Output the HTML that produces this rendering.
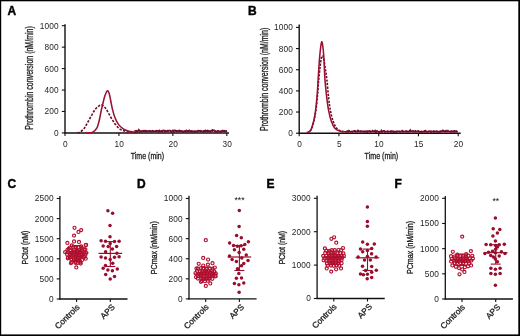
<!DOCTYPE html>
<html><head><meta charset="utf-8"><style>html,body{margin:0;padding:0;background:#fff;width:520px;height:336px;overflow:hidden}svg{display:block;will-change:transform}</style></head>
<body>
<svg width="520" height="336" viewBox="0 0 520 336" font-family='"Liberation Sans", sans-serif'>
<rect x="0" y="0" width="520" height="336" fill="#000"/>
<rect x="1.2" y="1.3" width="517.1" height="333.1" fill="#fff"/>
<text x="7.50" y="14.60" font-size="12" font-weight="bold" fill="#000" stroke="#000" stroke-width="0.4">A</text>
<text x="248.10" y="14.60" font-size="12" font-weight="bold" fill="#000" stroke="#000" stroke-width="0.4">B</text>
<text x="7.50" y="187.70" font-size="12" font-weight="bold" fill="#000" stroke="#000" stroke-width="0.4">C</text>
<text x="137.00" y="187.70" font-size="12" font-weight="bold" fill="#000" stroke="#000" stroke-width="0.4">D</text>
<text x="266.60" y="187.70" font-size="12" font-weight="bold" fill="#000" stroke="#000" stroke-width="0.4">E</text>
<text x="394.50" y="187.70" font-size="12" font-weight="bold" fill="#000" stroke="#000" stroke-width="0.4">F</text>
<line x1="65.0" y1="24.3" x2="65.0" y2="133.5" stroke="#111" stroke-width="1.4"/>
<line x1="61.8" y1="132.90" x2="65.0" y2="132.90" stroke="#111" stroke-width="1.1"/>
<text x="58.80" y="135.89" font-size="8.3" text-anchor="end" font-weight="normal" fill="#1e1e1e" letter-spacing="0.15">0</text>
<line x1="61.8" y1="111.46" x2="65.0" y2="111.46" stroke="#111" stroke-width="1.1"/>
<text x="58.80" y="114.45" font-size="8.3" text-anchor="end" font-weight="normal" fill="#1e1e1e" letter-spacing="0.15">200</text>
<line x1="61.8" y1="90.02" x2="65.0" y2="90.02" stroke="#111" stroke-width="1.1"/>
<text x="58.80" y="93.01" font-size="8.3" text-anchor="end" font-weight="normal" fill="#1e1e1e" letter-spacing="0.15">400</text>
<line x1="61.8" y1="68.58" x2="65.0" y2="68.58" stroke="#111" stroke-width="1.1"/>
<text x="58.80" y="71.57" font-size="8.3" text-anchor="end" font-weight="normal" fill="#1e1e1e" letter-spacing="0.15">600</text>
<line x1="61.8" y1="47.14" x2="65.0" y2="47.14" stroke="#111" stroke-width="1.1"/>
<text x="58.80" y="50.13" font-size="8.3" text-anchor="end" font-weight="normal" fill="#1e1e1e" letter-spacing="0.15">800</text>
<line x1="61.8" y1="25.70" x2="65.0" y2="25.70" stroke="#111" stroke-width="1.1"/>
<text x="58.80" y="28.69" font-size="8.3" text-anchor="end" font-weight="normal" fill="#1e1e1e" letter-spacing="0.15">1000</text>
<line x1="64.4" y1="132.9" x2="229" y2="132.9" stroke="#111" stroke-width="1.5"/>
<line x1="65.00" y1="132.9" x2="65.00" y2="135.9" stroke="#111" stroke-width="1.1"/>
<text x="65.40" y="147.10" font-size="8.3" text-anchor="middle" font-weight="normal" fill="#1e1e1e" letter-spacing="0.15">0</text>
<line x1="118.93" y1="132.9" x2="118.93" y2="135.9" stroke="#111" stroke-width="1.1"/>
<text x="119.33" y="147.10" font-size="8.3" text-anchor="middle" font-weight="normal" fill="#1e1e1e" letter-spacing="0.15">10</text>
<line x1="172.87" y1="132.9" x2="172.87" y2="135.9" stroke="#111" stroke-width="1.1"/>
<text x="173.27" y="147.10" font-size="8.3" text-anchor="middle" font-weight="normal" fill="#1e1e1e" letter-spacing="0.15">20</text>
<line x1="226.80" y1="132.9" x2="226.80" y2="135.9" stroke="#111" stroke-width="1.1"/>
<text x="227.20" y="147.10" font-size="8.3" text-anchor="middle" font-weight="normal" fill="#1e1e1e" letter-spacing="0.15">30</text>
<text transform="translate(33.20,78.00) rotate(-90)" x="0" y="0" font-size="10" text-anchor="middle" textLength="103.5" lengthAdjust="spacingAndGlyphs" fill="#1e1e1e" stroke="#1e1e1e" stroke-width="0.32">Prothrombin conversion (nM/min)</text>
<text x="147.40" y="159.00" font-size="9.3" text-anchor="middle" textLength="33.2" lengthAdjust="spacingAndGlyphs" fill="#1e1e1e" stroke="#1e1e1e" stroke-width="0.32">Time (min)</text>
<path d="M77.50,132.60 C77.88,132.55 78.67,133.03 79.80,132.30 C80.93,131.57 82.95,129.92 84.30,128.20 C85.65,126.48 86.72,124.08 87.90,122.00 C89.08,119.92 90.22,117.78 91.40,115.70 C92.58,113.62 93.80,111.08 95.00,109.50 C96.20,107.92 97.47,106.95 98.60,106.20 C99.73,105.45 100.62,104.63 101.80,105.00 C102.98,105.37 104.60,107.07 105.70,108.40 C106.80,109.73 107.35,111.18 108.40,113.00 C109.45,114.82 110.82,117.37 112.00,119.30 C113.18,121.23 114.17,122.97 115.50,124.60 C116.83,126.23 118.35,127.97 120.00,129.10 C121.65,130.23 123.62,130.88 125.40,131.40 C127.18,131.92 128.93,132.03 130.70,132.20 C132.47,132.37 135.12,132.37 136.00,132.40" fill="none" stroke="#6e0a26" stroke-width="1.6" stroke-dasharray="2.4,1.4"/>
<path d="M86.00,132.60 C87.05,132.57 90.50,133.13 92.30,132.40 C94.10,131.67 95.60,130.38 96.80,128.20 C98.00,126.02 98.76,122.27 99.50,119.30 C100.24,116.33 100.67,113.08 101.25,110.40 C101.83,107.72 102.41,105.58 103.00,103.20 C103.59,100.82 104.08,98.15 104.80,96.10 C105.52,94.05 106.57,91.35 107.30,90.90 C108.03,90.45 108.63,91.80 109.20,93.40 C109.77,95.00 110.18,97.97 110.70,100.50 C111.22,103.03 111.60,105.77 112.30,108.60 C113.00,111.43 113.85,114.83 114.90,117.50 C115.95,120.17 117.15,122.67 118.60,124.60 C120.05,126.53 121.88,127.98 123.60,129.10 C125.32,130.22 127.12,130.80 128.90,131.30 C130.68,131.80 133.40,131.97 134.30,132.10" fill="none" stroke="#9a0f32" stroke-width="1.55"/>
<polyline points="134.30,131.55 135.20,130.91 136.10,130.62 137.00,131.46 137.90,131.42 138.80,129.80 139.70,130.82 140.60,131.48 141.50,131.15 142.40,131.11 143.30,130.75 144.20,131.24 145.10,130.52 146.00,131.39 146.90,130.97 147.80,131.00 148.70,131.41 149.60,131.03 150.50,131.36 151.40,131.43 152.30,130.89 153.20,131.30 154.10,131.21 155.00,131.26 155.90,130.91 156.80,131.13 157.70,130.78 158.60,131.55 159.50,130.44 160.40,131.34 161.30,131.35 162.20,130.59 163.10,130.61 164.00,130.38 164.90,131.33 165.80,131.43 166.70,131.48 167.60,130.76 168.50,131.05 169.40,130.61 170.30,130.53 171.20,131.40 172.10,130.97 173.00,130.32 173.90,131.06 174.80,130.32 175.70,130.95 176.60,131.44 177.50,130.89 178.40,131.32 179.30,130.80 180.20,131.23 181.10,130.94 182.00,131.09 182.90,131.50 183.80,131.55 184.70,130.88 185.60,131.32 186.50,131.08 187.40,130.85 188.30,130.97 189.20,130.34 190.10,131.20 191.00,131.33 191.90,131.10 192.80,131.06 193.70,131.58 194.60,131.47 195.50,131.46 196.40,131.24 197.30,131.37 198.20,130.74 199.10,131.08 200.00,130.70 200.90,131.36 201.80,131.16 202.70,131.23 203.60,131.48 204.50,131.24 205.40,130.67 206.30,131.42 207.20,130.62 208.10,131.44 209.00,131.36 209.90,131.53 210.80,131.10 211.70,130.56 212.60,129.99 213.50,130.42 214.40,130.49 215.30,131.25 216.20,131.43 217.10,131.25 218.00,131.03 218.90,131.57 219.80,131.40 220.70,131.54 221.60,131.44 222.50,130.56 223.40,131.06 224.30,130.69 225.20,131.52 226.10,131.25 226.50,131.60" fill="none" stroke="#7c0d2e" stroke-width="1.7"/>
<polyline points="136.00,131.78 136.90,131.54 137.80,131.29 138.70,131.57 139.60,131.76 140.50,131.41 141.40,131.68 142.30,131.57 143.20,131.33 144.10,130.92 145.00,131.52 145.90,131.08 146.80,131.63 147.70,131.64 148.60,131.46 149.50,130.85 150.40,131.34 151.30,131.28 152.20,130.78 153.10,131.30 154.00,131.16 154.90,131.42 155.80,131.41 156.70,130.85 157.60,131.67 158.50,131.13 159.40,131.44 160.30,131.79 161.20,131.50 162.10,131.47 163.00,131.50 163.90,131.10 164.80,131.68 165.70,130.87 166.60,131.63 167.50,130.80 168.40,130.71 169.30,130.97 170.20,131.35 171.10,131.75 172.00,130.69 172.90,131.10 173.80,131.70 174.70,131.45 175.60,130.77 176.50,130.80 177.40,131.33 178.30,130.96 179.20,130.52 180.10,130.91 181.00,131.63 181.90,131.73 182.80,131.71 183.70,131.67 184.60,131.52 185.50,131.80 186.40,130.43 187.30,130.92 188.20,131.67 189.10,131.72 190.00,131.00 190.90,130.88 191.80,131.78 192.70,131.42 193.60,131.69 194.50,131.66 195.40,131.24 196.30,131.77 197.20,131.57 198.10,130.71 199.00,130.97 199.90,130.96 200.80,131.26 201.70,130.98 202.60,131.01 203.50,131.66 204.40,129.61 205.30,131.16 206.20,131.72 207.10,131.66 208.00,130.83 208.90,131.64 209.80,130.97 210.70,131.42 211.60,129.68 212.50,130.96 213.40,131.57 214.30,130.70 215.20,131.55 216.10,131.02 217.00,131.71 217.90,131.15 218.80,131.27 219.70,131.44 220.60,131.46 221.50,131.40 222.40,130.75 223.30,131.19 224.20,131.09 225.10,131.14 226.00,130.26 226.50,131.80" fill="none" stroke="#6e0a26" stroke-width="1.8" stroke-dasharray="2.2,1.2"/>
<line x1="299.2" y1="24.5" x2="299.2" y2="133.79999999999998" stroke="#111" stroke-width="1.4"/>
<line x1="296.0" y1="133.20" x2="299.2" y2="133.20" stroke="#111" stroke-width="1.1"/>
<text x="293.00" y="136.19" font-size="8.3" text-anchor="end" font-weight="normal" fill="#1e1e1e" letter-spacing="0.15">0</text>
<line x1="296.0" y1="112.04" x2="299.2" y2="112.04" stroke="#111" stroke-width="1.1"/>
<text x="293.00" y="115.03" font-size="8.3" text-anchor="end" font-weight="normal" fill="#1e1e1e" letter-spacing="0.15">200</text>
<line x1="296.0" y1="90.88" x2="299.2" y2="90.88" stroke="#111" stroke-width="1.1"/>
<text x="293.00" y="93.87" font-size="8.3" text-anchor="end" font-weight="normal" fill="#1e1e1e" letter-spacing="0.15">400</text>
<line x1="296.0" y1="69.72" x2="299.2" y2="69.72" stroke="#111" stroke-width="1.1"/>
<text x="293.00" y="72.71" font-size="8.3" text-anchor="end" font-weight="normal" fill="#1e1e1e" letter-spacing="0.15">600</text>
<line x1="296.0" y1="48.56" x2="299.2" y2="48.56" stroke="#111" stroke-width="1.1"/>
<text x="293.00" y="51.55" font-size="8.3" text-anchor="end" font-weight="normal" fill="#1e1e1e" letter-spacing="0.15">800</text>
<line x1="296.0" y1="27.40" x2="299.2" y2="27.40" stroke="#111" stroke-width="1.1"/>
<text x="293.00" y="30.39" font-size="8.3" text-anchor="end" font-weight="normal" fill="#1e1e1e" letter-spacing="0.15">1000</text>
<line x1="298.59999999999997" y1="133.2" x2="460.7" y2="133.2" stroke="#111" stroke-width="1.5"/>
<line x1="299.20" y1="133.2" x2="299.20" y2="136.2" stroke="#111" stroke-width="1.1"/>
<text x="299.60" y="147.10" font-size="8.3" text-anchor="middle" font-weight="normal" fill="#1e1e1e" letter-spacing="0.15">0</text>
<line x1="338.95" y1="133.2" x2="338.95" y2="136.2" stroke="#111" stroke-width="1.1"/>
<text x="339.35" y="147.10" font-size="8.3" text-anchor="middle" font-weight="normal" fill="#1e1e1e" letter-spacing="0.15">5</text>
<line x1="378.70" y1="133.2" x2="378.70" y2="136.2" stroke="#111" stroke-width="1.1"/>
<text x="379.10" y="147.10" font-size="8.3" text-anchor="middle" font-weight="normal" fill="#1e1e1e" letter-spacing="0.15">10</text>
<line x1="418.45" y1="133.2" x2="418.45" y2="136.2" stroke="#111" stroke-width="1.1"/>
<text x="418.85" y="147.10" font-size="8.3" text-anchor="middle" font-weight="normal" fill="#1e1e1e" letter-spacing="0.15">15</text>
<line x1="458.20" y1="133.2" x2="458.20" y2="136.2" stroke="#111" stroke-width="1.1"/>
<text x="458.60" y="147.10" font-size="8.3" text-anchor="middle" font-weight="normal" fill="#1e1e1e" letter-spacing="0.15">20</text>
<text transform="translate(267.80,79.35) rotate(-90)" x="0" y="0" font-size="10" text-anchor="middle" textLength="103.2" lengthAdjust="spacingAndGlyphs" fill="#1e1e1e" stroke="#1e1e1e" stroke-width="0.32">Prothrombin conversion (nM/min)</text>
<text x="381.40" y="159.00" font-size="9.3" text-anchor="middle" textLength="33.6" lengthAdjust="spacingAndGlyphs" fill="#1e1e1e" stroke="#1e1e1e" stroke-width="0.32">Time (min)</text>
<path d="M307.00,132.60 C307.33,132.53 308.27,132.78 309.00,132.20 C309.73,131.62 310.58,130.97 311.40,129.10 C312.22,127.23 313.15,124.12 313.90,121.00 C314.65,117.88 315.28,114.85 315.90,110.40 C316.52,105.95 317.13,99.37 317.60,94.30 C318.07,89.23 318.27,84.72 318.70,80.00 C319.13,75.28 319.75,69.67 320.20,66.00 C320.65,62.33 321.03,59.70 321.40,58.00 C321.77,56.30 322.03,55.80 322.40,55.80 C322.77,55.80 323.13,55.97 323.60,58.00 C324.07,60.03 324.65,64.33 325.20,68.00 C325.75,71.67 326.33,75.02 326.90,80.00 C327.47,84.98 328.02,92.83 328.60,97.90 C329.18,102.97 329.67,106.55 330.40,110.40 C331.13,114.25 331.97,118.03 333.00,121.00 C334.03,123.97 335.10,126.48 336.60,128.20 C338.10,129.92 340.10,130.67 342.00,131.30 C343.90,131.93 347.00,131.88 348.00,132.00" fill="none" stroke="#6e0a26" stroke-width="1.6" stroke-dasharray="2.2,1.3"/>
<path d="M306.50,132.60 C306.85,132.53 307.82,132.78 308.60,132.20 C309.38,131.62 310.35,130.97 311.20,129.10 C312.05,127.23 312.97,124.12 313.70,121.00 C314.43,117.88 315.02,114.85 315.60,110.40 C316.18,105.95 316.78,99.37 317.20,94.30 C317.62,89.23 317.73,85.72 318.10,80.00 C318.47,74.28 318.97,65.50 319.40,60.00 C319.83,54.50 320.32,50.05 320.70,47.00 C321.08,43.95 321.35,41.87 321.70,41.70 C322.05,41.53 322.43,43.28 322.80,46.00 C323.17,48.72 323.53,52.33 323.90,58.00 C324.27,63.67 324.52,73.35 325.00,80.00 C325.48,86.65 326.20,92.83 326.80,97.90 C327.40,102.97 327.86,106.55 328.60,110.40 C329.34,114.25 330.22,118.03 331.25,121.00 C332.28,123.97 333.31,126.50 334.80,128.20 C336.29,129.90 338.27,130.58 340.20,131.20 C342.13,131.82 345.37,131.78 346.40,131.90" fill="none" stroke="#9a0f32" stroke-width="1.55"/>
<polyline points="346.40,131.68 347.30,131.09 348.20,131.70 349.10,131.29 350.00,131.62 350.90,131.72 351.80,131.57 352.70,131.58 353.60,131.40 354.50,130.82 355.40,131.74 356.30,131.56 357.20,131.69 358.10,131.54 359.00,131.35 359.90,131.39 360.80,131.60 361.70,131.37 362.60,131.44 363.50,131.69 364.40,131.78 365.30,131.21 366.20,131.75 367.10,131.43 368.00,131.14 368.90,131.43 369.80,131.15 370.70,131.64 371.60,131.52 372.50,131.52 373.40,131.36 374.30,131.56 375.20,130.51 376.10,131.69 377.00,130.96 377.90,131.76 378.80,131.75 379.70,131.72 380.60,131.68 381.50,131.69 382.40,131.79 383.30,130.95 384.20,130.91 385.10,131.51 386.00,131.72 386.90,131.34 387.80,131.55 388.70,131.73 389.60,131.75 390.50,131.28 391.40,131.33 392.30,131.79 393.20,131.14 394.10,131.60 395.00,131.73 395.90,131.67 396.80,131.23 397.70,131.23 398.60,131.23 399.50,131.41 400.40,131.58 401.30,131.45 402.20,130.67 403.10,131.55 404.00,131.60 404.90,131.52 405.80,131.17 406.70,131.19 407.60,131.61 408.50,131.78 409.40,131.72 410.30,130.10 411.20,131.55 412.10,131.28 413.00,130.91 413.90,131.68 414.80,131.62 415.70,131.60 416.60,131.73 417.50,131.40 418.40,130.92 419.30,131.72 420.20,131.78 421.10,131.48 422.00,131.69 422.90,131.78 423.80,131.40 424.70,130.75 425.60,130.68 426.50,131.72 427.40,131.76 428.30,131.51 429.20,131.10 430.10,131.29 431.00,131.74 431.90,131.62 432.80,131.65 433.70,131.07 434.60,131.70 435.50,131.41 436.40,131.44 437.30,131.52 438.20,131.69 439.10,131.59 440.00,131.71 440.90,131.56 441.80,131.57 442.70,131.45 443.60,130.61 444.50,131.69 445.40,131.36 446.30,131.61 447.20,131.72 448.10,131.47 449.00,131.50 449.90,131.62 450.80,131.44 451.70,131.57 452.60,131.41 453.50,131.53 454.40,130.87 455.30,131.69 456.20,130.99 457.10,131.78 457.50,131.80" fill="none" stroke="#7c0d2e" stroke-width="1.7"/>
<polyline points="348.00,131.83 348.90,130.86 349.80,131.71 350.70,131.83 351.60,131.69 352.50,131.61 353.40,131.49 354.30,130.97 355.20,131.19 356.10,131.47 357.00,131.37 357.90,130.61 358.80,131.78 359.70,131.65 360.60,131.43 361.50,131.22 362.40,131.00 363.30,131.57 364.20,131.44 365.10,131.80 366.00,131.91 366.90,131.59 367.80,131.98 368.70,131.80 369.60,131.18 370.50,131.73 371.40,131.68 372.30,130.74 373.20,131.30 374.10,131.97 375.00,131.59 375.90,131.97 376.80,131.39 377.70,131.40 378.60,131.78 379.50,131.84 380.40,131.77 381.30,130.58 382.20,131.85 383.10,131.77 384.00,131.59 384.90,131.74 385.80,131.86 386.70,131.80 387.60,131.48 388.50,131.37 389.40,131.71 390.30,131.98 391.20,131.34 392.10,131.67 393.00,131.14 393.90,131.98 394.80,130.86 395.70,131.76 396.60,131.75 397.50,131.86 398.40,131.47 399.30,131.69 400.20,131.87 401.10,131.81 402.00,131.66 402.90,131.65 403.80,131.56 404.70,131.92 405.60,131.84 406.50,131.54 407.40,131.51 408.30,131.40 409.20,131.02 410.10,131.35 411.00,131.92 411.90,131.71 412.80,131.42 413.70,131.35 414.60,131.96 415.50,130.97 416.40,131.84 417.30,131.46 418.20,131.18 419.10,131.68 420.00,131.24 420.90,131.79 421.80,131.86 422.70,131.59 423.60,131.86 424.50,131.66 425.40,131.58 426.30,131.03 427.20,131.66 428.10,131.74 429.00,131.16 429.90,131.18 430.80,131.94 431.70,131.53 432.60,131.94 433.50,131.63 434.40,131.84 435.30,131.07 436.20,131.22 437.10,131.83 438.00,131.77 438.90,131.44 439.80,131.85 440.70,131.22 441.60,131.73 442.50,130.61 443.40,131.60 444.30,131.12 445.20,131.34 446.10,130.74 447.00,131.57 447.90,130.68 448.80,131.59 449.70,131.49 450.60,131.71 451.50,131.34 452.40,131.88 453.30,131.59 454.20,131.46 455.10,131.53 456.00,131.99 456.90,131.55 457.50,132.00" fill="none" stroke="#6e0a26" stroke-width="1.8" stroke-dasharray="2.2,1.2"/>
<line x1="59.9" y1="196.1" x2="59.9" y2="299.6" stroke="#111" stroke-width="1.3"/>
<line x1="56.699999999999996" y1="299.00" x2="59.9" y2="299.00" stroke="#111" stroke-width="1.1"/>
<text x="53.70" y="301.99" font-size="8.3" text-anchor="end" font-weight="normal" fill="#1e1e1e" letter-spacing="0.15">0</text>
<line x1="56.699999999999996" y1="278.90" x2="59.9" y2="278.90" stroke="#111" stroke-width="1.1"/>
<text x="53.70" y="281.89" font-size="8.3" text-anchor="end" font-weight="normal" fill="#1e1e1e" letter-spacing="0.15">500</text>
<line x1="56.699999999999996" y1="258.80" x2="59.9" y2="258.80" stroke="#111" stroke-width="1.1"/>
<text x="53.70" y="261.79" font-size="8.3" text-anchor="end" font-weight="normal" fill="#1e1e1e" letter-spacing="0.15">1000</text>
<line x1="56.699999999999996" y1="238.70" x2="59.9" y2="238.70" stroke="#111" stroke-width="1.1"/>
<text x="53.70" y="241.69" font-size="8.3" text-anchor="end" font-weight="normal" fill="#1e1e1e" letter-spacing="0.15">1500</text>
<line x1="56.699999999999996" y1="218.60" x2="59.9" y2="218.60" stroke="#111" stroke-width="1.1"/>
<text x="53.70" y="221.59" font-size="8.3" text-anchor="end" font-weight="normal" fill="#1e1e1e" letter-spacing="0.15">2000</text>
<line x1="56.699999999999996" y1="198.50" x2="59.9" y2="198.50" stroke="#111" stroke-width="1.1"/>
<text x="53.70" y="201.49" font-size="8.3" text-anchor="end" font-weight="normal" fill="#1e1e1e" letter-spacing="0.15">2500</text>
<line x1="59.3" y1="299.0" x2="127.5" y2="299.0" stroke="#111" stroke-width="1.3"/>
<line x1="76.60" y1="299.0" x2="76.60" y2="302.0" stroke="#111" stroke-width="1.1"/>
<line x1="110.30" y1="299.0" x2="110.30" y2="302.0" stroke="#111" stroke-width="1.1"/>
<text transform="translate(80.10,307.70) rotate(-45)" font-size="8.3" text-anchor="end" fill="#1e1e1e" stroke="#1e1e1e" stroke-width="0.3">Controls</text>
<text transform="translate(115.50,307.70) rotate(-45)" font-size="8.3" text-anchor="end" fill="#1e1e1e" stroke="#1e1e1e" stroke-width="0.3">APS</text>
<text transform="translate(27.70,247.55) rotate(-90)" x="0" y="0" font-size="8.7" text-anchor="middle" textLength="33.8" lengthAdjust="spacingAndGlyphs" fill="#1e1e1e" stroke="#1e1e1e" stroke-width="0.32">PCtot (nM)</text>
<ellipse cx="76.5" cy="254.5" rx="8" ry="5.5" fill="#c4113a" opacity="0.8"/>
<circle cx="69.94" cy="247.57" r="1.55" fill="none" stroke="#b0102f" stroke-width="1.15"/>
<circle cx="73.41" cy="247.46" r="1.55" fill="none" stroke="#b0102f" stroke-width="1.15"/>
<circle cx="75.81" cy="247.60" r="1.55" fill="none" stroke="#b0102f" stroke-width="1.15"/>
<circle cx="78.32" cy="247.51" r="1.55" fill="none" stroke="#b0102f" stroke-width="1.15"/>
<circle cx="81.76" cy="247.85" r="1.55" fill="none" stroke="#b0102f" stroke-width="1.15"/>
<circle cx="67.46" cy="249.76" r="1.55" fill="none" stroke="#b0102f" stroke-width="1.15"/>
<circle cx="70.36" cy="250.37" r="1.55" fill="none" stroke="#b0102f" stroke-width="1.15"/>
<circle cx="73.98" cy="249.45" r="1.55" fill="none" stroke="#b0102f" stroke-width="1.15"/>
<circle cx="77.23" cy="250.56" r="1.55" fill="none" stroke="#b0102f" stroke-width="1.15"/>
<circle cx="79.73" cy="250.14" r="1.55" fill="none" stroke="#b0102f" stroke-width="1.15"/>
<circle cx="82.04" cy="249.42" r="1.55" fill="none" stroke="#b0102f" stroke-width="1.15"/>
<circle cx="85.38" cy="249.47" r="1.55" fill="none" stroke="#b0102f" stroke-width="1.15"/>
<circle cx="65.13" cy="252.19" r="1.55" fill="none" stroke="#b0102f" stroke-width="1.15"/>
<circle cx="67.84" cy="252.46" r="1.55" fill="none" stroke="#b0102f" stroke-width="1.15"/>
<circle cx="71.23" cy="252.91" r="1.55" fill="none" stroke="#b0102f" stroke-width="1.15"/>
<circle cx="74.22" cy="252.67" r="1.55" fill="none" stroke="#b0102f" stroke-width="1.15"/>
<circle cx="77.10" cy="252.69" r="1.55" fill="none" stroke="#b0102f" stroke-width="1.15"/>
<circle cx="79.95" cy="252.23" r="1.55" fill="none" stroke="#b0102f" stroke-width="1.15"/>
<circle cx="83.50" cy="253.09" r="1.55" fill="none" stroke="#b0102f" stroke-width="1.15"/>
<circle cx="86.21" cy="252.75" r="1.55" fill="none" stroke="#b0102f" stroke-width="1.15"/>
<circle cx="67.23" cy="254.68" r="1.55" fill="none" stroke="#b0102f" stroke-width="1.15"/>
<circle cx="70.10" cy="254.48" r="1.55" fill="none" stroke="#b0102f" stroke-width="1.15"/>
<circle cx="73.57" cy="254.88" r="1.55" fill="none" stroke="#b0102f" stroke-width="1.15"/>
<circle cx="76.57" cy="254.86" r="1.55" fill="none" stroke="#b0102f" stroke-width="1.15"/>
<circle cx="79.60" cy="255.42" r="1.55" fill="none" stroke="#b0102f" stroke-width="1.15"/>
<circle cx="81.35" cy="254.65" r="1.55" fill="none" stroke="#b0102f" stroke-width="1.15"/>
<circle cx="85.34" cy="254.96" r="1.55" fill="none" stroke="#b0102f" stroke-width="1.15"/>
<circle cx="68.08" cy="257.38" r="1.55" fill="none" stroke="#b0102f" stroke-width="1.15"/>
<circle cx="69.89" cy="257.66" r="1.55" fill="none" stroke="#b0102f" stroke-width="1.15"/>
<circle cx="73.63" cy="257.22" r="1.55" fill="none" stroke="#b0102f" stroke-width="1.15"/>
<circle cx="75.70" cy="257.30" r="1.55" fill="none" stroke="#b0102f" stroke-width="1.15"/>
<circle cx="79.66" cy="257.81" r="1.55" fill="none" stroke="#b0102f" stroke-width="1.15"/>
<circle cx="81.54" cy="257.20" r="1.55" fill="none" stroke="#b0102f" stroke-width="1.15"/>
<circle cx="84.42" cy="256.97" r="1.55" fill="none" stroke="#b0102f" stroke-width="1.15"/>
<circle cx="71.31" cy="259.61" r="1.55" fill="none" stroke="#b0102f" stroke-width="1.15"/>
<circle cx="73.92" cy="259.94" r="1.55" fill="none" stroke="#b0102f" stroke-width="1.15"/>
<circle cx="76.38" cy="260.28" r="1.55" fill="none" stroke="#b0102f" stroke-width="1.15"/>
<circle cx="79.21" cy="260.17" r="1.55" fill="none" stroke="#b0102f" stroke-width="1.15"/>
<circle cx="82.09" cy="259.90" r="1.55" fill="none" stroke="#b0102f" stroke-width="1.15"/>
<circle cx="71.66" cy="262.22" r="1.55" fill="none" stroke="#b0102f" stroke-width="1.15"/>
<circle cx="75.47" cy="262.86" r="1.55" fill="none" stroke="#b0102f" stroke-width="1.15"/>
<circle cx="77.56" cy="262.96" r="1.55" fill="none" stroke="#b0102f" stroke-width="1.15"/>
<circle cx="80.35" cy="262.37" r="1.55" fill="none" stroke="#b0102f" stroke-width="1.15"/>
<circle cx="74.50" cy="227.75" r="1.55" fill="none" stroke="#b0102f" stroke-width="1.15"/>
<circle cx="78.50" cy="231.90" r="1.55" fill="none" stroke="#b0102f" stroke-width="1.15"/>
<circle cx="81.20" cy="230.10" r="1.55" fill="none" stroke="#b0102f" stroke-width="1.15"/>
<circle cx="74.05" cy="235.60" r="1.55" fill="none" stroke="#b0102f" stroke-width="1.15"/>
<circle cx="67.40" cy="242.90" r="1.55" fill="none" stroke="#b0102f" stroke-width="1.15"/>
<circle cx="74.05" cy="241.40" r="1.55" fill="none" stroke="#b0102f" stroke-width="1.15"/>
<circle cx="79.00" cy="241.90" r="1.55" fill="none" stroke="#b0102f" stroke-width="1.15"/>
<circle cx="85.70" cy="245.00" r="1.55" fill="none" stroke="#b0102f" stroke-width="1.15"/>
<circle cx="71.80" cy="245.40" r="1.55" fill="none" stroke="#b0102f" stroke-width="1.15"/>
<circle cx="81.20" cy="246.30" r="1.55" fill="none" stroke="#b0102f" stroke-width="1.15"/>
<circle cx="68.70" cy="248.60" r="1.55" fill="none" stroke="#b0102f" stroke-width="1.15"/>
<circle cx="84.30" cy="249.40" r="1.55" fill="none" stroke="#b0102f" stroke-width="1.15"/>
<circle cx="86.10" cy="244.90" r="1.55" fill="none" stroke="#b0102f" stroke-width="1.15"/>
<circle cx="67.80" cy="258.30" r="1.55" fill="none" stroke="#b0102f" stroke-width="1.15"/>
<circle cx="70.90" cy="263.20" r="1.55" fill="none" stroke="#b0102f" stroke-width="1.15"/>
<circle cx="75.80" cy="261.90" r="1.55" fill="none" stroke="#b0102f" stroke-width="1.15"/>
<circle cx="80.75" cy="263.60" r="1.55" fill="none" stroke="#b0102f" stroke-width="1.15"/>
<circle cx="85.70" cy="258.70" r="1.55" fill="none" stroke="#b0102f" stroke-width="1.15"/>
<circle cx="76.30" cy="267.40" r="1.55" fill="none" stroke="#b0102f" stroke-width="1.15"/>
<line x1="64.80" y1="252.90" x2="88.40" y2="252.90" stroke="#b0102f" stroke-width="1.2"/>
<line x1="76.60" y1="245.50" x2="76.60" y2="260.50" stroke="#b0102f" stroke-width="1.1"/>
<line x1="71.60" y1="245.50" x2="81.60" y2="245.50" stroke="#b0102f" stroke-width="1.1"/>
<line x1="71.60" y1="260.50" x2="81.60" y2="260.50" stroke="#b0102f" stroke-width="1.1"/>
<circle cx="107.90" cy="210.80" r="1.75" fill="#990c2c"/>
<circle cx="112.60" cy="213.20" r="1.75" fill="#990c2c"/>
<circle cx="110.00" cy="225.40" r="1.75" fill="#990c2c"/>
<circle cx="110.00" cy="236.70" r="1.75" fill="#990c2c"/>
<circle cx="101.10" cy="240.70" r="1.75" fill="#990c2c"/>
<circle cx="105.50" cy="241.20" r="1.75" fill="#990c2c"/>
<circle cx="110.20" cy="243.40" r="1.75" fill="#990c2c"/>
<circle cx="114.50" cy="241.60" r="1.75" fill="#990c2c"/>
<circle cx="119.10" cy="241.20" r="1.75" fill="#990c2c"/>
<circle cx="103.20" cy="246.10" r="1.75" fill="#990c2c"/>
<circle cx="108.20" cy="246.50" r="1.75" fill="#990c2c"/>
<circle cx="116.60" cy="246.50" r="1.75" fill="#990c2c"/>
<circle cx="112.40" cy="248.90" r="1.75" fill="#990c2c"/>
<circle cx="105.60" cy="251.80" r="1.75" fill="#990c2c"/>
<circle cx="116.90" cy="253.20" r="1.75" fill="#990c2c"/>
<circle cx="101.10" cy="256.90" r="1.75" fill="#990c2c"/>
<circle cx="105.50" cy="257.90" r="1.75" fill="#990c2c"/>
<circle cx="114.50" cy="257.20" r="1.75" fill="#990c2c"/>
<circle cx="119.10" cy="256.70" r="1.75" fill="#990c2c"/>
<circle cx="110.20" cy="259.40" r="1.75" fill="#990c2c"/>
<circle cx="112.70" cy="263.20" r="1.75" fill="#990c2c"/>
<circle cx="105.50" cy="265.40" r="1.75" fill="#990c2c"/>
<circle cx="103.20" cy="268.30" r="1.75" fill="#990c2c"/>
<circle cx="107.90" cy="270.10" r="1.75" fill="#990c2c"/>
<circle cx="112.40" cy="270.80" r="1.75" fill="#990c2c"/>
<circle cx="117.30" cy="268.90" r="1.75" fill="#990c2c"/>
<circle cx="105.70" cy="274.60" r="1.75" fill="#990c2c"/>
<circle cx="114.50" cy="276.40" r="1.75" fill="#990c2c"/>
<circle cx="110.20" cy="279.10" r="1.75" fill="#990c2c"/>
<line x1="98.50" y1="253.40" x2="122.10" y2="253.40" stroke="#990c2c" stroke-width="1.2"/>
<line x1="110.30" y1="241.60" x2="110.30" y2="266.50" stroke="#990c2c" stroke-width="1.1"/>
<line x1="105.30" y1="241.60" x2="115.30" y2="241.60" stroke="#990c2c" stroke-width="1.1"/>
<line x1="105.30" y1="266.50" x2="115.30" y2="266.50" stroke="#990c2c" stroke-width="1.1"/>
<line x1="189.0" y1="195.8" x2="189.0" y2="299.5" stroke="#111" stroke-width="1.3"/>
<line x1="185.8" y1="298.90" x2="189.0" y2="298.90" stroke="#111" stroke-width="1.1"/>
<text x="182.80" y="301.89" font-size="8.3" text-anchor="end" font-weight="normal" fill="#1e1e1e" letter-spacing="0.15">0</text>
<line x1="185.8" y1="278.82" x2="189.0" y2="278.82" stroke="#111" stroke-width="1.1"/>
<text x="182.80" y="281.81" font-size="8.3" text-anchor="end" font-weight="normal" fill="#1e1e1e" letter-spacing="0.15">200</text>
<line x1="185.8" y1="258.74" x2="189.0" y2="258.74" stroke="#111" stroke-width="1.1"/>
<text x="182.80" y="261.73" font-size="8.3" text-anchor="end" font-weight="normal" fill="#1e1e1e" letter-spacing="0.15">400</text>
<line x1="185.8" y1="238.66" x2="189.0" y2="238.66" stroke="#111" stroke-width="1.1"/>
<text x="182.80" y="241.65" font-size="8.3" text-anchor="end" font-weight="normal" fill="#1e1e1e" letter-spacing="0.15">600</text>
<line x1="185.8" y1="218.58" x2="189.0" y2="218.58" stroke="#111" stroke-width="1.1"/>
<text x="182.80" y="221.57" font-size="8.3" text-anchor="end" font-weight="normal" fill="#1e1e1e" letter-spacing="0.15">800</text>
<line x1="185.8" y1="198.50" x2="189.0" y2="198.50" stroke="#111" stroke-width="1.1"/>
<text x="182.80" y="201.49" font-size="8.3" text-anchor="end" font-weight="normal" fill="#1e1e1e" letter-spacing="0.15">1000</text>
<line x1="188.4" y1="298.9" x2="256.6" y2="298.9" stroke="#111" stroke-width="1.3"/>
<line x1="205.70" y1="298.9" x2="205.70" y2="301.9" stroke="#111" stroke-width="1.1"/>
<line x1="239.40" y1="298.9" x2="239.40" y2="301.9" stroke="#111" stroke-width="1.1"/>
<text transform="translate(209.20,307.60) rotate(-45)" font-size="8.3" text-anchor="end" fill="#1e1e1e" stroke="#1e1e1e" stroke-width="0.3">Controls</text>
<text transform="translate(244.60,307.60) rotate(-45)" font-size="8.3" text-anchor="end" fill="#1e1e1e" stroke="#1e1e1e" stroke-width="0.3">APS</text>
<text transform="translate(157.00,247.65) rotate(-90)" x="0" y="0" font-size="8.7" text-anchor="middle" textLength="53.0" lengthAdjust="spacingAndGlyphs" fill="#1e1e1e" stroke="#1e1e1e" stroke-width="0.32">PCmax (nM/min)</text>
<ellipse cx="206" cy="275" rx="8" ry="5" fill="#c4113a" opacity="0.8"/>
<circle cx="197.97" cy="268.69" r="1.55" fill="none" stroke="#b0102f" stroke-width="1.15"/>
<circle cx="201.10" cy="268.07" r="1.55" fill="none" stroke="#b0102f" stroke-width="1.15"/>
<circle cx="203.21" cy="268.35" r="1.55" fill="none" stroke="#b0102f" stroke-width="1.15"/>
<circle cx="206.43" cy="268.87" r="1.55" fill="none" stroke="#b0102f" stroke-width="1.15"/>
<circle cx="209.83" cy="268.62" r="1.55" fill="none" stroke="#b0102f" stroke-width="1.15"/>
<circle cx="212.57" cy="268.69" r="1.55" fill="none" stroke="#b0102f" stroke-width="1.15"/>
<circle cx="197.02" cy="270.93" r="1.55" fill="none" stroke="#b0102f" stroke-width="1.15"/>
<circle cx="199.94" cy="271.49" r="1.55" fill="none" stroke="#b0102f" stroke-width="1.15"/>
<circle cx="202.72" cy="271.38" r="1.55" fill="none" stroke="#b0102f" stroke-width="1.15"/>
<circle cx="205.64" cy="271.22" r="1.55" fill="none" stroke="#b0102f" stroke-width="1.15"/>
<circle cx="208.85" cy="270.89" r="1.55" fill="none" stroke="#b0102f" stroke-width="1.15"/>
<circle cx="212.36" cy="270.42" r="1.55" fill="none" stroke="#b0102f" stroke-width="1.15"/>
<circle cx="214.32" cy="271.50" r="1.55" fill="none" stroke="#b0102f" stroke-width="1.15"/>
<circle cx="195.51" cy="273.01" r="1.55" fill="none" stroke="#b0102f" stroke-width="1.15"/>
<circle cx="198.98" cy="274.04" r="1.55" fill="none" stroke="#b0102f" stroke-width="1.15"/>
<circle cx="200.84" cy="273.41" r="1.55" fill="none" stroke="#b0102f" stroke-width="1.15"/>
<circle cx="203.76" cy="273.28" r="1.55" fill="none" stroke="#b0102f" stroke-width="1.15"/>
<circle cx="207.25" cy="273.10" r="1.55" fill="none" stroke="#b0102f" stroke-width="1.15"/>
<circle cx="210.24" cy="272.96" r="1.55" fill="none" stroke="#b0102f" stroke-width="1.15"/>
<circle cx="212.51" cy="273.88" r="1.55" fill="none" stroke="#b0102f" stroke-width="1.15"/>
<circle cx="215.68" cy="273.40" r="1.55" fill="none" stroke="#b0102f" stroke-width="1.15"/>
<circle cx="198.07" cy="275.97" r="1.55" fill="none" stroke="#b0102f" stroke-width="1.15"/>
<circle cx="200.71" cy="275.44" r="1.55" fill="none" stroke="#b0102f" stroke-width="1.15"/>
<circle cx="204.02" cy="276.56" r="1.55" fill="none" stroke="#b0102f" stroke-width="1.15"/>
<circle cx="207.22" cy="276.20" r="1.55" fill="none" stroke="#b0102f" stroke-width="1.15"/>
<circle cx="209.38" cy="275.84" r="1.55" fill="none" stroke="#b0102f" stroke-width="1.15"/>
<circle cx="212.68" cy="276.21" r="1.55" fill="none" stroke="#b0102f" stroke-width="1.15"/>
<circle cx="214.89" cy="275.68" r="1.55" fill="none" stroke="#b0102f" stroke-width="1.15"/>
<circle cx="197.84" cy="278.51" r="1.55" fill="none" stroke="#b0102f" stroke-width="1.15"/>
<circle cx="201.27" cy="278.50" r="1.55" fill="none" stroke="#b0102f" stroke-width="1.15"/>
<circle cx="203.23" cy="278.89" r="1.55" fill="none" stroke="#b0102f" stroke-width="1.15"/>
<circle cx="206.62" cy="278.52" r="1.55" fill="none" stroke="#b0102f" stroke-width="1.15"/>
<circle cx="209.27" cy="278.41" r="1.55" fill="none" stroke="#b0102f" stroke-width="1.15"/>
<circle cx="212.37" cy="278.83" r="1.55" fill="none" stroke="#b0102f" stroke-width="1.15"/>
<circle cx="201.97" cy="281.06" r="1.55" fill="none" stroke="#b0102f" stroke-width="1.15"/>
<circle cx="204.96" cy="281.24" r="1.55" fill="none" stroke="#b0102f" stroke-width="1.15"/>
<circle cx="207.69" cy="280.73" r="1.55" fill="none" stroke="#b0102f" stroke-width="1.15"/>
<circle cx="205.80" cy="240.20" r="1.55" fill="none" stroke="#b0102f" stroke-width="1.15"/>
<circle cx="203.20" cy="257.90" r="1.55" fill="none" stroke="#b0102f" stroke-width="1.15"/>
<circle cx="208.10" cy="259.50" r="1.55" fill="none" stroke="#b0102f" stroke-width="1.15"/>
<circle cx="198.70" cy="263.75" r="1.55" fill="none" stroke="#b0102f" stroke-width="1.15"/>
<circle cx="203.20" cy="265.50" r="1.55" fill="none" stroke="#b0102f" stroke-width="1.15"/>
<circle cx="207.90" cy="264.60" r="1.55" fill="none" stroke="#b0102f" stroke-width="1.15"/>
<circle cx="212.50" cy="263.20" r="1.55" fill="none" stroke="#b0102f" stroke-width="1.15"/>
<circle cx="196.50" cy="268.40" r="1.55" fill="none" stroke="#b0102f" stroke-width="1.15"/>
<circle cx="214.80" cy="267.50" r="1.55" fill="none" stroke="#b0102f" stroke-width="1.15"/>
<circle cx="200.90" cy="281.80" r="1.55" fill="none" stroke="#b0102f" stroke-width="1.15"/>
<circle cx="210.30" cy="283.40" r="1.55" fill="none" stroke="#b0102f" stroke-width="1.15"/>
<circle cx="205.80" cy="285.90" r="1.55" fill="none" stroke="#b0102f" stroke-width="1.15"/>
<circle cx="196.00" cy="277.10" r="1.55" fill="none" stroke="#b0102f" stroke-width="1.15"/>
<circle cx="215.70" cy="276.25" r="1.55" fill="none" stroke="#b0102f" stroke-width="1.15"/>
<line x1="193.90" y1="274.00" x2="217.50" y2="274.00" stroke="#b0102f" stroke-width="1.2"/>
<line x1="205.70" y1="267.00" x2="205.70" y2="280.00" stroke="#b0102f" stroke-width="1.1"/>
<line x1="200.70" y1="267.00" x2="210.70" y2="267.00" stroke="#b0102f" stroke-width="1.1"/>
<line x1="200.70" y1="280.00" x2="210.70" y2="280.00" stroke="#b0102f" stroke-width="1.1"/>
<circle cx="239.30" cy="210.40" r="1.75" fill="#990c2c"/>
<circle cx="239.10" cy="226.40" r="1.75" fill="#990c2c"/>
<circle cx="236.60" cy="235.60" r="1.75" fill="#990c2c"/>
<circle cx="241.30" cy="237.70" r="1.75" fill="#990c2c"/>
<circle cx="248.40" cy="241.70" r="1.75" fill="#990c2c"/>
<circle cx="229.60" cy="243.10" r="1.75" fill="#990c2c"/>
<circle cx="233.50" cy="245.50" r="1.75" fill="#990c2c"/>
<circle cx="237.40" cy="246.20" r="1.75" fill="#990c2c"/>
<circle cx="241.10" cy="245.80" r="1.75" fill="#990c2c"/>
<circle cx="244.80" cy="244.50" r="1.75" fill="#990c2c"/>
<circle cx="234.40" cy="249.80" r="1.75" fill="#990c2c"/>
<circle cx="243.75" cy="249.30" r="1.75" fill="#990c2c"/>
<circle cx="239.10" cy="252.50" r="1.75" fill="#990c2c"/>
<circle cx="246.25" cy="255.00" r="1.75" fill="#990c2c"/>
<circle cx="229.50" cy="256.10" r="1.75" fill="#990c2c"/>
<circle cx="241.80" cy="257.90" r="1.75" fill="#990c2c"/>
<circle cx="232.10" cy="259.50" r="1.75" fill="#990c2c"/>
<circle cx="236.40" cy="261.40" r="1.75" fill="#990c2c"/>
<circle cx="248.00" cy="260.50" r="1.75" fill="#990c2c"/>
<circle cx="243.75" cy="263.40" r="1.75" fill="#990c2c"/>
<circle cx="241.50" cy="265.80" r="1.75" fill="#990c2c"/>
<circle cx="237.50" cy="268.80" r="1.75" fill="#990c2c"/>
<circle cx="238.80" cy="273.60" r="1.75" fill="#990c2c"/>
<circle cx="236.40" cy="278.20" r="1.75" fill="#990c2c"/>
<circle cx="241.50" cy="278.10" r="1.75" fill="#990c2c"/>
<circle cx="234.40" cy="283.60" r="1.75" fill="#990c2c"/>
<circle cx="238.90" cy="284.70" r="1.75" fill="#990c2c"/>
<circle cx="243.75" cy="283.00" r="1.75" fill="#990c2c"/>
<circle cx="239.10" cy="292.30" r="1.75" fill="#990c2c"/>
<line x1="227.60" y1="257.00" x2="251.20" y2="257.00" stroke="#990c2c" stroke-width="1.2"/>
<line x1="239.40" y1="245.50" x2="239.40" y2="270.50" stroke="#990c2c" stroke-width="1.1"/>
<line x1="234.40" y1="245.50" x2="244.40" y2="245.50" stroke="#990c2c" stroke-width="1.1"/>
<line x1="234.40" y1="270.50" x2="244.40" y2="270.50" stroke="#990c2c" stroke-width="1.1"/>
<text x="239.55" y="203.40" font-size="8.8" text-anchor="middle" font-weight="normal" fill="#111" >***</text>
<line x1="317.1" y1="195.7" x2="317.1" y2="299.1" stroke="#111" stroke-width="1.3"/>
<line x1="313.90000000000003" y1="298.50" x2="317.1" y2="298.50" stroke="#111" stroke-width="1.1"/>
<text x="310.90" y="301.49" font-size="8.3" text-anchor="end" font-weight="normal" fill="#1e1e1e" letter-spacing="0.15">0</text>
<line x1="313.90000000000003" y1="265.10" x2="317.1" y2="265.10" stroke="#111" stroke-width="1.1"/>
<text x="310.90" y="268.09" font-size="8.3" text-anchor="end" font-weight="normal" fill="#1e1e1e" letter-spacing="0.15">1000</text>
<line x1="313.90000000000003" y1="231.70" x2="317.1" y2="231.70" stroke="#111" stroke-width="1.1"/>
<text x="310.90" y="234.69" font-size="8.3" text-anchor="end" font-weight="normal" fill="#1e1e1e" letter-spacing="0.15">2000</text>
<line x1="313.90000000000003" y1="198.30" x2="317.1" y2="198.30" stroke="#111" stroke-width="1.1"/>
<text x="310.90" y="201.29" font-size="8.3" text-anchor="end" font-weight="normal" fill="#1e1e1e" letter-spacing="0.15">3000</text>
<line x1="316.5" y1="298.5" x2="384.70000000000005" y2="298.5" stroke="#111" stroke-width="1.3"/>
<line x1="333.80" y1="298.5" x2="333.80" y2="301.5" stroke="#111" stroke-width="1.1"/>
<line x1="367.50" y1="298.5" x2="367.50" y2="301.5" stroke="#111" stroke-width="1.1"/>
<text transform="translate(337.30,307.20) rotate(-45)" font-size="8.3" text-anchor="end" fill="#1e1e1e" stroke="#1e1e1e" stroke-width="0.3">Controls</text>
<text transform="translate(372.70,307.20) rotate(-45)" font-size="8.3" text-anchor="end" fill="#1e1e1e" stroke="#1e1e1e" stroke-width="0.3">APS</text>
<text transform="translate(285.20,247.60) rotate(-90)" x="0" y="0" font-size="8.7" text-anchor="middle" textLength="33.5" lengthAdjust="spacingAndGlyphs" fill="#1e1e1e" stroke="#1e1e1e" stroke-width="0.32">PCtot (nM)</text>
<ellipse cx="334" cy="258.5" rx="8" ry="5.5" fill="#c4113a" opacity="0.8"/>
<circle cx="326.21" cy="250.72" r="1.55" fill="none" stroke="#b0102f" stroke-width="1.15"/>
<circle cx="329.62" cy="250.92" r="1.55" fill="none" stroke="#b0102f" stroke-width="1.15"/>
<circle cx="331.92" cy="250.18" r="1.55" fill="none" stroke="#b0102f" stroke-width="1.15"/>
<circle cx="334.78" cy="250.17" r="1.55" fill="none" stroke="#b0102f" stroke-width="1.15"/>
<circle cx="338.38" cy="250.06" r="1.55" fill="none" stroke="#b0102f" stroke-width="1.15"/>
<circle cx="341.04" cy="250.16" r="1.55" fill="none" stroke="#b0102f" stroke-width="1.15"/>
<circle cx="325.20" cy="252.92" r="1.55" fill="none" stroke="#b0102f" stroke-width="1.15"/>
<circle cx="328.76" cy="253.13" r="1.55" fill="none" stroke="#b0102f" stroke-width="1.15"/>
<circle cx="330.67" cy="252.73" r="1.55" fill="none" stroke="#b0102f" stroke-width="1.15"/>
<circle cx="333.73" cy="253.45" r="1.55" fill="none" stroke="#b0102f" stroke-width="1.15"/>
<circle cx="337.42" cy="253.37" r="1.55" fill="none" stroke="#b0102f" stroke-width="1.15"/>
<circle cx="340.34" cy="253.29" r="1.55" fill="none" stroke="#b0102f" stroke-width="1.15"/>
<circle cx="343.39" cy="253.35" r="1.55" fill="none" stroke="#b0102f" stroke-width="1.15"/>
<circle cx="323.21" cy="255.92" r="1.55" fill="none" stroke="#b0102f" stroke-width="1.15"/>
<circle cx="326.38" cy="255.81" r="1.55" fill="none" stroke="#b0102f" stroke-width="1.15"/>
<circle cx="329.38" cy="255.42" r="1.55" fill="none" stroke="#b0102f" stroke-width="1.15"/>
<circle cx="332.04" cy="255.42" r="1.55" fill="none" stroke="#b0102f" stroke-width="1.15"/>
<circle cx="334.88" cy="255.04" r="1.55" fill="none" stroke="#b0102f" stroke-width="1.15"/>
<circle cx="338.38" cy="255.86" r="1.55" fill="none" stroke="#b0102f" stroke-width="1.15"/>
<circle cx="341.48" cy="255.73" r="1.55" fill="none" stroke="#b0102f" stroke-width="1.15"/>
<circle cx="343.87" cy="255.80" r="1.55" fill="none" stroke="#b0102f" stroke-width="1.15"/>
<circle cx="324.51" cy="258.21" r="1.55" fill="none" stroke="#b0102f" stroke-width="1.15"/>
<circle cx="327.78" cy="257.61" r="1.55" fill="none" stroke="#b0102f" stroke-width="1.15"/>
<circle cx="330.39" cy="258.03" r="1.55" fill="none" stroke="#b0102f" stroke-width="1.15"/>
<circle cx="333.35" cy="257.95" r="1.55" fill="none" stroke="#b0102f" stroke-width="1.15"/>
<circle cx="336.68" cy="257.87" r="1.55" fill="none" stroke="#b0102f" stroke-width="1.15"/>
<circle cx="339.01" cy="257.99" r="1.55" fill="none" stroke="#b0102f" stroke-width="1.15"/>
<circle cx="342.03" cy="257.68" r="1.55" fill="none" stroke="#b0102f" stroke-width="1.15"/>
<circle cx="323.63" cy="260.34" r="1.55" fill="none" stroke="#b0102f" stroke-width="1.15"/>
<circle cx="326.39" cy="260.68" r="1.55" fill="none" stroke="#b0102f" stroke-width="1.15"/>
<circle cx="330.34" cy="260.37" r="1.55" fill="none" stroke="#b0102f" stroke-width="1.15"/>
<circle cx="332.96" cy="261.02" r="1.55" fill="none" stroke="#b0102f" stroke-width="1.15"/>
<circle cx="335.05" cy="260.07" r="1.55" fill="none" stroke="#b0102f" stroke-width="1.15"/>
<circle cx="338.87" cy="260.91" r="1.55" fill="none" stroke="#b0102f" stroke-width="1.15"/>
<circle cx="341.57" cy="260.09" r="1.55" fill="none" stroke="#b0102f" stroke-width="1.15"/>
<circle cx="326.85" cy="263.44" r="1.55" fill="none" stroke="#b0102f" stroke-width="1.15"/>
<circle cx="330.31" cy="263.36" r="1.55" fill="none" stroke="#b0102f" stroke-width="1.15"/>
<circle cx="332.39" cy="263.42" r="1.55" fill="none" stroke="#b0102f" stroke-width="1.15"/>
<circle cx="335.50" cy="263.26" r="1.55" fill="none" stroke="#b0102f" stroke-width="1.15"/>
<circle cx="338.11" cy="263.57" r="1.55" fill="none" stroke="#b0102f" stroke-width="1.15"/>
<circle cx="341.57" cy="263.27" r="1.55" fill="none" stroke="#b0102f" stroke-width="1.15"/>
<circle cx="327.65" cy="265.64" r="1.55" fill="none" stroke="#b0102f" stroke-width="1.15"/>
<circle cx="331.00" cy="265.61" r="1.55" fill="none" stroke="#b0102f" stroke-width="1.15"/>
<circle cx="333.63" cy="265.77" r="1.55" fill="none" stroke="#b0102f" stroke-width="1.15"/>
<circle cx="336.51" cy="265.25" r="1.55" fill="none" stroke="#b0102f" stroke-width="1.15"/>
<circle cx="339.20" cy="265.72" r="1.55" fill="none" stroke="#b0102f" stroke-width="1.15"/>
<circle cx="331.40" cy="238.80" r="1.55" fill="none" stroke="#b0102f" stroke-width="1.15"/>
<circle cx="334.10" cy="237.30" r="1.55" fill="none" stroke="#b0102f" stroke-width="1.15"/>
<circle cx="336.25" cy="242.70" r="1.55" fill="none" stroke="#b0102f" stroke-width="1.15"/>
<circle cx="324.90" cy="248.40" r="1.55" fill="none" stroke="#b0102f" stroke-width="1.15"/>
<circle cx="343.00" cy="248.00" r="1.55" fill="none" stroke="#b0102f" stroke-width="1.15"/>
<circle cx="326.70" cy="268.40" r="1.55" fill="none" stroke="#b0102f" stroke-width="1.15"/>
<circle cx="331.20" cy="271.60" r="1.55" fill="none" stroke="#b0102f" stroke-width="1.15"/>
<circle cx="336.10" cy="269.30" r="1.55" fill="none" stroke="#b0102f" stroke-width="1.15"/>
<circle cx="341.00" cy="268.40" r="1.55" fill="none" stroke="#b0102f" stroke-width="1.15"/>
<line x1="322.00" y1="257.50" x2="345.60" y2="257.50" stroke="#b0102f" stroke-width="1.2"/>
<line x1="333.80" y1="251.00" x2="333.80" y2="264.00" stroke="#b0102f" stroke-width="1.1"/>
<line x1="328.80" y1="251.00" x2="338.80" y2="251.00" stroke="#b0102f" stroke-width="1.1"/>
<line x1="328.80" y1="264.00" x2="338.80" y2="264.00" stroke="#b0102f" stroke-width="1.1"/>
<circle cx="367.40" cy="207.00" r="1.75" fill="#990c2c"/>
<circle cx="367.40" cy="221.40" r="1.75" fill="#990c2c"/>
<circle cx="367.40" cy="226.30" r="1.75" fill="#990c2c"/>
<circle cx="362.70" cy="242.10" r="1.75" fill="#990c2c"/>
<circle cx="367.40" cy="244.20" r="1.75" fill="#990c2c"/>
<circle cx="374.30" cy="243.90" r="1.75" fill="#990c2c"/>
<circle cx="360.50" cy="249.00" r="1.75" fill="#990c2c"/>
<circle cx="371.70" cy="248.40" r="1.75" fill="#990c2c"/>
<circle cx="362.70" cy="251.80" r="1.75" fill="#990c2c"/>
<circle cx="367.40" cy="250.60" r="1.75" fill="#990c2c"/>
<circle cx="371.60" cy="253.80" r="1.75" fill="#990c2c"/>
<circle cx="358.10" cy="256.90" r="1.75" fill="#990c2c"/>
<circle cx="367.40" cy="256.50" r="1.75" fill="#990c2c"/>
<circle cx="376.10" cy="256.90" r="1.75" fill="#990c2c"/>
<circle cx="364.50" cy="260.10" r="1.75" fill="#990c2c"/>
<circle cx="370.30" cy="260.10" r="1.75" fill="#990c2c"/>
<circle cx="362.50" cy="266.30" r="1.75" fill="#990c2c"/>
<circle cx="371.70" cy="266.60" r="1.75" fill="#990c2c"/>
<circle cx="376.30" cy="270.20" r="1.75" fill="#990c2c"/>
<circle cx="365.60" cy="270.50" r="1.75" fill="#990c2c"/>
<circle cx="371.70" cy="272.30" r="1.75" fill="#990c2c"/>
<circle cx="360.50" cy="274.00" r="1.75" fill="#990c2c"/>
<circle cx="363.40" cy="274.70" r="1.75" fill="#990c2c"/>
<circle cx="367.40" cy="274.30" r="1.75" fill="#990c2c"/>
<circle cx="371.70" cy="277.40" r="1.75" fill="#990c2c"/>
<circle cx="367.20" cy="278.80" r="1.75" fill="#990c2c"/>
<line x1="355.70" y1="257.80" x2="379.30" y2="257.80" stroke="#990c2c" stroke-width="1.2"/>
<line x1="367.50" y1="249.10" x2="367.50" y2="270.50" stroke="#990c2c" stroke-width="1.1"/>
<line x1="362.50" y1="249.10" x2="372.50" y2="249.10" stroke="#990c2c" stroke-width="1.1"/>
<line x1="362.50" y1="270.50" x2="372.50" y2="270.50" stroke="#990c2c" stroke-width="1.1"/>
<line x1="445.3" y1="196.0" x2="445.3" y2="299.6" stroke="#111" stroke-width="1.3"/>
<line x1="442.1" y1="299.00" x2="445.3" y2="299.00" stroke="#111" stroke-width="1.1"/>
<text x="439.10" y="301.99" font-size="8.3" text-anchor="end" font-weight="normal" fill="#1e1e1e" letter-spacing="0.15">0</text>
<line x1="442.1" y1="273.82" x2="445.3" y2="273.82" stroke="#111" stroke-width="1.1"/>
<text x="439.10" y="276.81" font-size="8.3" text-anchor="end" font-weight="normal" fill="#1e1e1e" letter-spacing="0.15">500</text>
<line x1="442.1" y1="248.65" x2="445.3" y2="248.65" stroke="#111" stroke-width="1.1"/>
<text x="439.10" y="251.64" font-size="8.3" text-anchor="end" font-weight="normal" fill="#1e1e1e" letter-spacing="0.15">1000</text>
<line x1="442.1" y1="223.48" x2="445.3" y2="223.48" stroke="#111" stroke-width="1.1"/>
<text x="439.10" y="226.46" font-size="8.3" text-anchor="end" font-weight="normal" fill="#1e1e1e" letter-spacing="0.15">1500</text>
<line x1="442.1" y1="198.30" x2="445.3" y2="198.30" stroke="#111" stroke-width="1.1"/>
<text x="439.10" y="201.29" font-size="8.3" text-anchor="end" font-weight="normal" fill="#1e1e1e" letter-spacing="0.15">2000</text>
<line x1="444.7" y1="299.0" x2="512.9" y2="299.0" stroke="#111" stroke-width="1.3"/>
<line x1="462.00" y1="299.0" x2="462.00" y2="302.0" stroke="#111" stroke-width="1.1"/>
<line x1="495.70" y1="299.0" x2="495.70" y2="302.0" stroke="#111" stroke-width="1.1"/>
<text transform="translate(465.50,307.70) rotate(-45)" font-size="8.3" text-anchor="end" fill="#1e1e1e" stroke="#1e1e1e" stroke-width="0.3">Controls</text>
<text transform="translate(500.90,307.70) rotate(-45)" font-size="8.3" text-anchor="end" fill="#1e1e1e" stroke="#1e1e1e" stroke-width="0.3">APS</text>
<text transform="translate(413.20,247.45) rotate(-90)" x="0" y="0" font-size="8.7" text-anchor="middle" textLength="53.0" lengthAdjust="spacingAndGlyphs" fill="#1e1e1e" stroke="#1e1e1e" stroke-width="0.32">PCmax (nM/min)</text>
<ellipse cx="462" cy="260" rx="8.5" ry="3" fill="#c4113a" opacity="0.8"/>
<circle cx="451.03" cy="256.24" r="1.55" fill="none" stroke="#b0102f" stroke-width="1.15"/>
<circle cx="454.58" cy="256.53" r="1.55" fill="none" stroke="#b0102f" stroke-width="1.15"/>
<circle cx="457.03" cy="255.71" r="1.55" fill="none" stroke="#b0102f" stroke-width="1.15"/>
<circle cx="460.48" cy="256.19" r="1.55" fill="none" stroke="#b0102f" stroke-width="1.15"/>
<circle cx="462.86" cy="256.22" r="1.55" fill="none" stroke="#b0102f" stroke-width="1.15"/>
<circle cx="465.88" cy="256.33" r="1.55" fill="none" stroke="#b0102f" stroke-width="1.15"/>
<circle cx="468.44" cy="255.67" r="1.55" fill="none" stroke="#b0102f" stroke-width="1.15"/>
<circle cx="472.28" cy="255.83" r="1.55" fill="none" stroke="#b0102f" stroke-width="1.15"/>
<circle cx="451.66" cy="258.87" r="1.55" fill="none" stroke="#b0102f" stroke-width="1.15"/>
<circle cx="455.01" cy="258.08" r="1.55" fill="none" stroke="#b0102f" stroke-width="1.15"/>
<circle cx="457.81" cy="258.70" r="1.55" fill="none" stroke="#b0102f" stroke-width="1.15"/>
<circle cx="460.25" cy="258.68" r="1.55" fill="none" stroke="#b0102f" stroke-width="1.15"/>
<circle cx="463.10" cy="258.30" r="1.55" fill="none" stroke="#b0102f" stroke-width="1.15"/>
<circle cx="465.95" cy="258.15" r="1.55" fill="none" stroke="#b0102f" stroke-width="1.15"/>
<circle cx="469.92" cy="258.38" r="1.55" fill="none" stroke="#b0102f" stroke-width="1.15"/>
<circle cx="472.84" cy="258.43" r="1.55" fill="none" stroke="#b0102f" stroke-width="1.15"/>
<circle cx="451.13" cy="261.45" r="1.55" fill="none" stroke="#b0102f" stroke-width="1.15"/>
<circle cx="454.12" cy="260.53" r="1.55" fill="none" stroke="#b0102f" stroke-width="1.15"/>
<circle cx="456.91" cy="261.16" r="1.55" fill="none" stroke="#b0102f" stroke-width="1.15"/>
<circle cx="459.32" cy="260.51" r="1.55" fill="none" stroke="#b0102f" stroke-width="1.15"/>
<circle cx="463.05" cy="261.02" r="1.55" fill="none" stroke="#b0102f" stroke-width="1.15"/>
<circle cx="465.13" cy="260.94" r="1.55" fill="none" stroke="#b0102f" stroke-width="1.15"/>
<circle cx="468.06" cy="261.36" r="1.55" fill="none" stroke="#b0102f" stroke-width="1.15"/>
<circle cx="471.30" cy="260.52" r="1.55" fill="none" stroke="#b0102f" stroke-width="1.15"/>
<circle cx="454.83" cy="263.01" r="1.55" fill="none" stroke="#b0102f" stroke-width="1.15"/>
<circle cx="457.09" cy="262.93" r="1.55" fill="none" stroke="#b0102f" stroke-width="1.15"/>
<circle cx="460.54" cy="263.04" r="1.55" fill="none" stroke="#b0102f" stroke-width="1.15"/>
<circle cx="463.18" cy="263.01" r="1.55" fill="none" stroke="#b0102f" stroke-width="1.15"/>
<circle cx="466.03" cy="263.72" r="1.55" fill="none" stroke="#b0102f" stroke-width="1.15"/>
<circle cx="468.99" cy="263.45" r="1.55" fill="none" stroke="#b0102f" stroke-width="1.15"/>
<circle cx="462.20" cy="236.60" r="1.55" fill="none" stroke="#b0102f" stroke-width="1.15"/>
<circle cx="452.80" cy="251.75" r="1.55" fill="none" stroke="#b0102f" stroke-width="1.15"/>
<circle cx="470.90" cy="251.10" r="1.55" fill="none" stroke="#b0102f" stroke-width="1.15"/>
<circle cx="457.30" cy="254.50" r="1.55" fill="none" stroke="#b0102f" stroke-width="1.15"/>
<circle cx="466.20" cy="254.20" r="1.55" fill="none" stroke="#b0102f" stroke-width="1.15"/>
<circle cx="452.40" cy="265.40" r="1.55" fill="none" stroke="#b0102f" stroke-width="1.15"/>
<circle cx="455.90" cy="266.75" r="1.55" fill="none" stroke="#b0102f" stroke-width="1.15"/>
<circle cx="459.00" cy="268.10" r="1.55" fill="none" stroke="#b0102f" stroke-width="1.15"/>
<circle cx="462.20" cy="269.40" r="1.55" fill="none" stroke="#b0102f" stroke-width="1.15"/>
<circle cx="464.90" cy="267.20" r="1.55" fill="none" stroke="#b0102f" stroke-width="1.15"/>
<circle cx="468.00" cy="266.30" r="1.55" fill="none" stroke="#b0102f" stroke-width="1.15"/>
<circle cx="471.10" cy="265.40" r="1.55" fill="none" stroke="#b0102f" stroke-width="1.15"/>
<circle cx="464.40" cy="271.90" r="1.55" fill="none" stroke="#b0102f" stroke-width="1.15"/>
<circle cx="459.50" cy="274.30" r="1.55" fill="none" stroke="#b0102f" stroke-width="1.15"/>
<line x1="450.20" y1="260.00" x2="473.80" y2="260.00" stroke="#b0102f" stroke-width="1.2"/>
<line x1="462.00" y1="254.00" x2="462.00" y2="265.50" stroke="#b0102f" stroke-width="1.1"/>
<line x1="457.00" y1="254.00" x2="467.00" y2="254.00" stroke="#b0102f" stroke-width="1.1"/>
<line x1="457.00" y1="265.50" x2="467.00" y2="265.50" stroke="#b0102f" stroke-width="1.1"/>
<circle cx="495.40" cy="217.90" r="1.75" fill="#990c2c"/>
<circle cx="493.20" cy="228.80" r="1.75" fill="#990c2c"/>
<circle cx="499.80" cy="229.50" r="1.75" fill="#990c2c"/>
<circle cx="497.40" cy="233.00" r="1.75" fill="#990c2c"/>
<circle cx="492.90" cy="236.00" r="1.75" fill="#990c2c"/>
<circle cx="495.40" cy="240.90" r="1.75" fill="#990c2c"/>
<circle cx="486.10" cy="244.40" r="1.75" fill="#990c2c"/>
<circle cx="490.70" cy="244.80" r="1.75" fill="#990c2c"/>
<circle cx="495.60" cy="245.60" r="1.75" fill="#990c2c"/>
<circle cx="499.20" cy="244.70" r="1.75" fill="#990c2c"/>
<circle cx="504.30" cy="244.20" r="1.75" fill="#990c2c"/>
<circle cx="497.40" cy="246.90" r="1.75" fill="#990c2c"/>
<circle cx="495.60" cy="249.20" r="1.75" fill="#990c2c"/>
<circle cx="484.90" cy="253.40" r="1.75" fill="#990c2c"/>
<circle cx="488.50" cy="252.30" r="1.75" fill="#990c2c"/>
<circle cx="492.50" cy="251.20" r="1.75" fill="#990c2c"/>
<circle cx="495.40" cy="252.70" r="1.75" fill="#990c2c"/>
<circle cx="501.40" cy="251.80" r="1.75" fill="#990c2c"/>
<circle cx="505.00" cy="253.40" r="1.75" fill="#990c2c"/>
<circle cx="490.70" cy="255.40" r="1.75" fill="#990c2c"/>
<circle cx="493.40" cy="256.90" r="1.75" fill="#990c2c"/>
<circle cx="499.20" cy="255.90" r="1.75" fill="#990c2c"/>
<circle cx="495.40" cy="259.00" r="1.75" fill="#990c2c"/>
<circle cx="497.40" cy="261.80" r="1.75" fill="#990c2c"/>
<circle cx="490.90" cy="268.30" r="1.75" fill="#990c2c"/>
<circle cx="495.40" cy="269.20" r="1.75" fill="#990c2c"/>
<circle cx="500.10" cy="268.30" r="1.75" fill="#990c2c"/>
<circle cx="490.90" cy="273.60" r="1.75" fill="#990c2c"/>
<circle cx="495.40" cy="274.25" r="1.75" fill="#990c2c"/>
<circle cx="500.10" cy="273.60" r="1.75" fill="#990c2c"/>
<circle cx="495.40" cy="285.20" r="1.75" fill="#990c2c"/>
<line x1="483.90" y1="252.70" x2="507.50" y2="252.70" stroke="#990c2c" stroke-width="1.2"/>
<line x1="495.70" y1="244.70" x2="495.70" y2="264.10" stroke="#990c2c" stroke-width="1.1"/>
<line x1="490.70" y1="244.70" x2="500.70" y2="244.70" stroke="#990c2c" stroke-width="1.1"/>
<line x1="490.70" y1="264.10" x2="500.70" y2="264.10" stroke="#990c2c" stroke-width="1.1"/>
<text x="495.85" y="203.90" font-size="8.8" text-anchor="middle" font-weight="normal" fill="#111" >**</text>
</svg>
</body></html>
